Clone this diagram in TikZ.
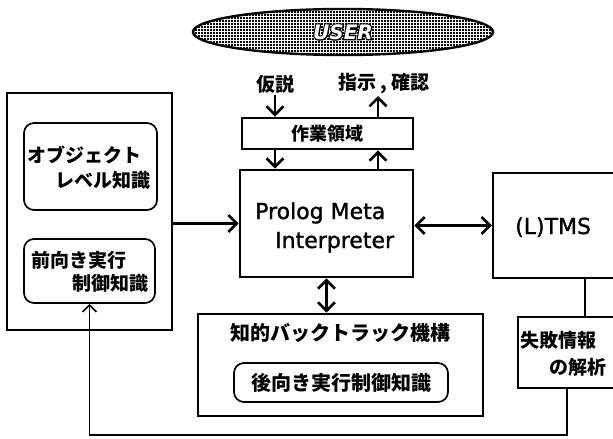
\documentclass[tikz,border=0pt]{standalone}
\usepackage{fontspec}
\setmainfont{DejaVu Sans}
\newfontfamily\jp{Noto Sans CJK JP}
\newfontfamily\chic{DejaVu Sans}[FakeBold=1.3]
\usetikzlibrary{arrows.meta,shapes.geometric,patterns.meta}
\newcommand\strokedonly[1]{\special{pdf:literal direct 1 Tr 0 G 2.4 w}#1\special{pdf:literal direct 0 Tr 0 g 0 G 0.4 w}}
\newcommand\outlinedtext[1]{\rlap{\strokedonly{#1}}\textcolor{white}{#1}}
\tikzdeclarepattern{
  name=userdots,
  type=uncolored,
  bottom left={(0pt,0pt)},
  top right={(3pt,3pt)},
  tile size={(3pt,3pt)},
  code={\fill (0pt,0pt) rectangle (2.5pt,2.5pt);}
}
\tikzset{
  heavybox/.style={draw, line width=2.8pt, inner sep=0pt},
  midbox/.style={draw, line width=2.3pt, inner sep=0pt},
  lightbox/.style={draw, line width=1.6pt, inner sep=0pt},
  roundbox/.style={draw, line width=1.7pt, rounded corners=10pt, inner sep=0pt},
  jpf/.style={font=\jp\bfseries\fontsize{19}{23}\selectfont, inner sep=0pt},
  jpbig/.style={font=\jp\bfseries\fontsize{20}{24}\selectfont, inner sep=0pt},
  enf/.style={font=\chic\fontsize{22}{26}\selectfont, inner sep=0pt},
  barb/.tip={Straight Barb[length=8.5pt,width=17pt]},
  arr/.style={-barb, line width=2.6pt},
  darr/.style={barb-barb, line width=2.6pt},
  thinline/.style={line width=1.5pt},
  fbline/.style={-{Straight Barb[length=7pt,width=14pt]}, line width=1.6pt},
  userell/.style={ellipse, draw, line width=2.4pt, pattern={userdots}, inner sep=0pt,
    minimum width=300pt, minimum height=46pt,
    font=\bfseries\itshape\fontsize{20}{20}\selectfont}
}
\begin{document}
\begin{tikzpicture}[x=1pt, y=-1pt, line join=miter]
\useasboundingbox (0,0) rectangle (613,439);

% USER
\node[userell] (user) at (343,32) {\outlinedtext{USER}};

% labels above work area
\node[jpf, inner ysep=2pt] (hyp) at (275,84) {仮説};
\node[jpf, inner ysep=2pt] (inst) at (384,84) {指示 , 確認};
\coordinate (instpt) at (378,96);

% work area
\node[heavybox, minimum width=171pt, minimum height=31pt, font=\jp\bfseries\fontsize{18}{22}\selectfont] (work) at (327.5,133.5) {作業領域};

% Prolog meta interpreter
\node[heavybox, minimum width=173pt, minimum height=107pt] (pmi) at (326.5,223.5) {};
\node[enf, anchor=base west] (pmi1) at (255,219) {Prolog Meta};
\node[enf, anchor=base west] (pmi2) at (275,248) {Interpreter};

% left knowledge box
\node[heavybox, minimum width=165pt, minimum height=237pt] (left) at (89.5,211.5) {};
\node[roundbox, minimum width=133pt, minimum height=87pt] (obj) at (90.5,166.5) {};
\node[jpf, anchor=base west] (obj1) at (27,162) {オブジェクト};
\node[jpf, anchor=base west] (obj2) at (55,187) {レベル知識};
\node[roundbox, minimum width=131pt, minimum height=64pt] (fwd) at (89.5,271) {};
\node[jpf, anchor=base west] (fwd1) at (31,267) {前向き実行};
\node[jpf, anchor=base east] (fwd2) at (149,290) {制御知識};

% (L)TMS
\node[midbox, minimum width=137pt, minimum height=105pt] (tms) at (561.5,225.5) {};
\node[enf, anchor=base west] (tmsl) at (515,234) {(L)TMS};

% failure analysis
\node[lightbox, minimum width=112pt, minimum height=71pt] (fail) at (574,352.5) {};
\node[jpf, anchor=base west] (fail1) at (520,347) {失敗情報};
\node[jpf, anchor=base east] (fail2) at (607,374) {の解析};

% backtrack mechanism
\node[heavybox, minimum width=285pt, minimum height=102pt] (bt) at (340.5,365) {};
\node[jpbig] (btl) at (340,333) {知的バックトラック機構};
\node[roundbox, minimum width=214pt, minimum height=39pt, jpbig] (bwd) at (341,382.5) {後向き実行制御知識};

% connectors
\draw[arr] (hyp.south) -- (hyp.south |- work.north);
\draw[arr] (work.north -| instpt) -- (instpt);
\draw[arr] (work.south -| hyp.south) -- (pmi.north -| hyp.south);
\draw[arr] (pmi.north -| instpt) -- (work.south -| instpt);
\draw[arr] (left.east |- pmi.west) -- (pmi.west);
\draw[darr] (pmi.east |- tms.west) -- (tms.west);
\draw[darr] (pmi.south) -- (pmi.south |- bt.north);
\coordinate (tmsdrop) at (585,300);
\draw[thinline] (tms.south -| tmsdrop) -- (fail.north -| tmsdrop);
\coordinate (faildrop) at (567,435);
\draw[fbline] (fail.south -| faildrop) -- (faildrop) -| (fwd.south);
\end{tikzpicture}
\end{document}
